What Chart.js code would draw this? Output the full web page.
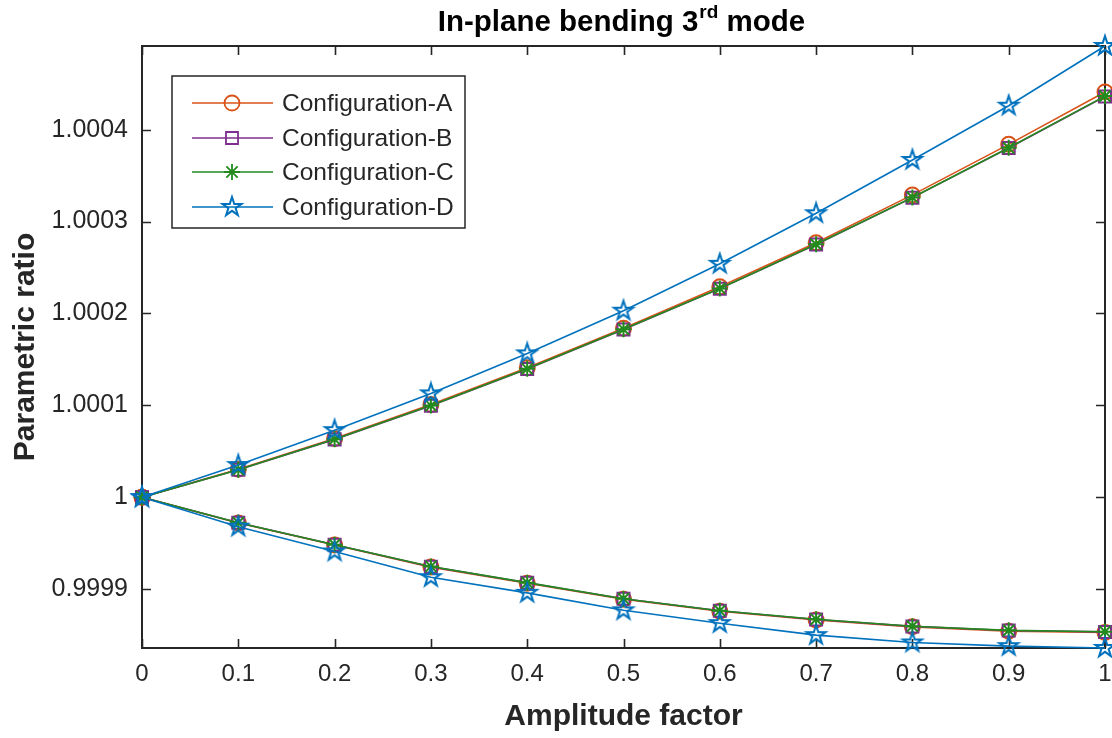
<!DOCTYPE html>
<html>
<head>
<meta charset="utf-8">
<script src="https://cdn.jsdelivr.net/npm/chart.js@4.4.1/dist/chart.umd.min.js"></script>
<style>
html,body{margin:0;padding:0;background:#ffffff;}
#wrap{width:1112px;height:738px;position:relative;}
</style>
</head>
<body>
<div id="wrap"><canvas id="c" width="1112" height="738"></canvas></div>
<script>
// ---------- data ----------
const amplitude = [0, 0.1, 0.2, 0.3, 0.4, 0.5, 0.6, 0.7, 0.8, 0.9, 1.0];
const xTickValues = [0, 0.1, 0.2, 0.3, 0.4, 0.5, 0.6, 0.7, 0.8, 0.9, 1];
const yTickValues = [0.9999, 1, 1.0001, 1.0002, 1.0003, 1.0004];
const seriesNames = ['Configuration-A', 'Configuration-B', 'Configuration-C', 'Configuration-D'];

const aUpper = [1, 1.0000304, 1.0000640, 1.0001010, 1.0001410, 1.0001840, 1.0002290, 1.0002770, 1.0003290, 1.0003840, 1.0004410];
const bUpper = [1, 1.0000300, 1.0000630, 1.0000995, 1.0001395, 1.0001825, 1.0002270, 1.0002750, 1.0003260, 1.0003800, 1.0004360];
const cUpper = [1, 1.0000300, 1.0000632, 1.0000998, 1.0001398, 1.0001828, 1.0002272, 1.0002752, 1.0003262, 1.0003802, 1.0004365];
const dUpper = [1, 1.0000350, 1.0000730, 1.0001130, 1.0001565, 1.0002030, 1.0002540, 1.0003090, 1.0003670, 1.0004260, 1.0004910];

const aLower = [1, 0.9999720, 0.9999480, 0.9999240, 0.9999065, 0.9998890, 0.9998760, 0.9998665, 0.9998590, 0.9998543, 0.9998530];
const bLower = [1, 0.9999722, 0.9999483, 0.9999245, 0.9999070, 0.9998895, 0.9998765, 0.9998670, 0.9998595, 0.9998550, 0.9998535];
const cLower = [1, 0.9999723, 0.9999484, 0.9999247, 0.9999071, 0.9998896, 0.9998766, 0.9998672, 0.9998597, 0.9998552, 0.9998537];
const dLower = [1, 0.9999680, 0.9999410, 0.9999130, 0.9998960, 0.9998770, 0.9998630, 0.9998500, 0.9998420, 0.9998380, 0.9998360];

const yMin = 0.999836;
const yMax = 1.000491;

// ---------- style ----------
const colors = ['#D95319', '#7E2F8E', '#238A1E', '#0072BD'];
const axisColor = '#262626';
const FONT = "'Liberation Sans', Arial, Helvetica, sans-serif";

function makePentagram(color, R, lw) {
  const size = Math.ceil(2 * R + lw * 2 + 2);
  const cv = document.createElement('canvas');
  cv.width = size; cv.height = size;
  const g = cv.getContext('2d');
  const cx = size / 2, cy = size / 2, r = R * 0.382;
  g.beginPath();
  for (let i = 0; i < 10; i++) {
    const ang = -Math.PI / 2 + i * Math.PI / 5;
    const rad = (i % 2 === 0) ? R : r;
    const px = cx + rad * Math.cos(ang), py = cy + rad * Math.sin(ang);
    if (i === 0) g.moveTo(px, py); else g.lineTo(px, py);
  }
  g.closePath();
  g.strokeStyle = color; g.lineWidth = lw; g.lineJoin = 'miter';
  g.stroke();
  return cv;
}
const starImg = makePentagram(colors[3], 10, 2);

const markerStyles = [
  { pointStyle: 'circle', radius: 7.5 },
  { pointStyle: 'rect', radius: 8.5 },
  { pointStyle: 'star', radius: 8 },
  { pointStyle: starImg, radius: 10 }
];

const upperSets = [aUpper, bUpper, cUpper, dUpper];
const lowerSets = [aLower, bLower, cLower, dLower];
const drawOrder = [3, 2, 1, 0];

function toPoints(arr) { return amplitude.map((x, i) => ({ x: x, y: arr[i] })); }

const datasets = [];
for (let i = 0; i < 4; i++) {
  [upperSets[i], lowerSets[i]].forEach((arr) => {
    datasets.push({
      label: seriesNames[i],
      data: toPoints(arr),
      borderColor: colors[i],
      backgroundColor: 'rgba(0,0,0,0)',
      pointBorderColor: colors[i],
      pointBackgroundColor: 'rgba(0,0,0,0)',
      borderWidth: 1.6,
      pointBorderWidth: 2,
      pointStyle: markerStyles[i].pointStyle,
      pointRadius: markerStyles[i].radius,
      pointHoverRadius: markerStyles[i].radius,
      tension: 0,
      fill: false,
      clip: false,
      order: drawOrder[i]
    });
  });
}

// ---------- plugins ----------
const boxPlugin = {
  id: 'boxPlugin',
  beforeDatasetsDraw(chart) {
    const { ctx, chartArea: a, scales } = chart;
    ctx.save();
    ctx.strokeStyle = axisColor;
    ctx.lineWidth = 2;
    ctx.strokeRect(a.left, a.top, a.right - a.left, a.bottom - a.top);
    const tl = 9;
    ctx.beginPath();
    yTickValues.forEach(v => {
      const py = Math.round(scales.y.getPixelForValue(v)) + 0.5;
      ctx.moveTo(a.left, py); ctx.lineTo(a.left + tl, py);
      ctx.moveTo(a.right, py); ctx.lineTo(a.right - tl, py);
    });
    xTickValues.forEach(v => {
      const px = Math.round(scales.x.getPixelForValue(v)) + 0.5;
      ctx.moveTo(px, a.bottom); ctx.lineTo(px, a.bottom - tl);
      ctx.moveTo(px, a.top); ctx.lineTo(px, a.top + tl);
    });
    ctx.lineWidth = 1.6;
    ctx.stroke();
    ctx.restore();
  }
};

const titlePlugin = {
  id: 'titlePlugin',
  afterDraw(chart) {
    const { ctx, chartArea: a } = chart;
    ctx.save();
    const mainFont = 'bold 29.5px ' + FONT;
    const supFont = 'bold 19px ' + FONT;
    const p1 = 'In-plane bending 3', p2 = 'rd', p3 = ' mode';
    ctx.font = mainFont; const w1 = ctx.measureText(p1).width; const w3 = ctx.measureText(p3).width;
    ctx.font = supFont; const w2 = ctx.measureText(p2).width;
    const total = w1 + w2 + w3 + 1;
    let x = (a.left + a.right) / 2 - total / 2 - 2;
    const base = 31;
    ctx.fillStyle = '#000000';
    ctx.textBaseline = 'alphabetic';
    ctx.textAlign = 'left';
    ctx.font = mainFont; ctx.fillText(p1, x, base); x += w1;
    ctx.font = supFont; ctx.fillText(p2, x + 1, base - 13); x += w2 + 1;
    ctx.font = mainFont; ctx.fillText(p3, x, base);
    ctx.restore();
  }
};

const legendPlugin = {
  id: 'legendPlugin',
  afterDraw(chart) {
    const { ctx, chartArea: a } = chart;
    const bx = a.left + 30, by = a.top + 30, bw = 293, bh = 152;
    ctx.save();
    ctx.fillStyle = '#ffffff';
    ctx.fillRect(bx, by, bw, bh);
    ctx.strokeStyle = axisColor;
    ctx.lineWidth = 1.5;
    ctx.strokeRect(bx, by, bw, bh);
    const rows = [103, 138, 172, 207].map(v => v - 76 + by);
    for (let i = 0; i < 4; i++) {
      const y = rows[i];
      ctx.strokeStyle = colors[i];
      ctx.lineWidth = 1.5;
      ctx.beginPath();
      ctx.moveTo(bx + 20, y); ctx.lineTo(bx + 101, y);
      ctx.stroke();
      const mx = bx + 60;
      if (Chart.helpers && Chart.helpers.drawPoint) {
        ctx.fillStyle = 'rgba(0,0,0,0)';
        ctx.strokeStyle = colors[i];
        ctx.lineWidth = 1.8;
        const r = markerStyles[i].radius;
        Chart.helpers.drawPoint(ctx, { pointStyle: markerStyles[i].pointStyle, rotation: 0, radius: r, borderWidth: 1.8 }, mx, y);
      }
      ctx.fillStyle = axisColor;
      ctx.font = '24.5px ' + FONT;
      ctx.textBaseline = 'middle';
      ctx.textAlign = 'left';
      ctx.fillText(seriesNames[i], bx + 110, y + 1);
    }
    ctx.restore();
  }
};

// ---------- chart ----------
Chart.defaults.font.family = FONT;
Chart.defaults.color = axisColor;

new Chart(document.getElementById('c'), {
  type: 'line',
  data: { datasets: datasets },
  options: {
    responsive: false,
    animation: false,
    events: [],
    layout: { autoPadding: false, padding: { top: 46, right: 7, bottom: 3, left: 8 } },
    plugins: { legend: { display: false }, title: { display: false }, tooltip: { enabled: false } },
    scales: {
      x: {
        type: 'linear',
        min: 0, max: 1,
        grid: { display: false, drawTicks: false },
        border: { display: false },
        afterBuildTicks(scale) { scale.ticks = xTickValues.map(v => ({ value: v })); },
        afterFit(scale) { scale.height = 87; scale.paddingRight = 0; scale.paddingLeft = 0; },
        ticks: {
          padding: 12,
          font: { size: 24 },
          color: axisColor,
          maxRotation: 0,
          autoSkip: false,
          callback: (v) => String(Number(v.toFixed(1)))
        },
        title: { display: true, text: 'Amplitude factor', color: axisColor, font: { size: 30, weight: 'bold' }, padding: 0 }
      },
      y: {
        type: 'linear',
        min: yMin, max: yMax,
        grid: { display: false, drawTicks: false },
        border: { display: false },
        afterBuildTicks(scale) { scale.ticks = yTickValues.map(v => ({ value: v })); },
        afterFit(scale) { scale.width = 134; },
        ticks: {
          padding: 14,
          font: { size: 25 },
          color: axisColor,
          autoSkip: false,
          callback: (v) => String(Number(v.toFixed(4)))
        },
        title: { display: true, text: 'Parametric ratio', color: axisColor, font: { size: 30, weight: 'bold' }, padding: 0 }
      }
    }
  },
  plugins: [boxPlugin, titlePlugin, legendPlugin]
});
</script>
</body>
</html>
